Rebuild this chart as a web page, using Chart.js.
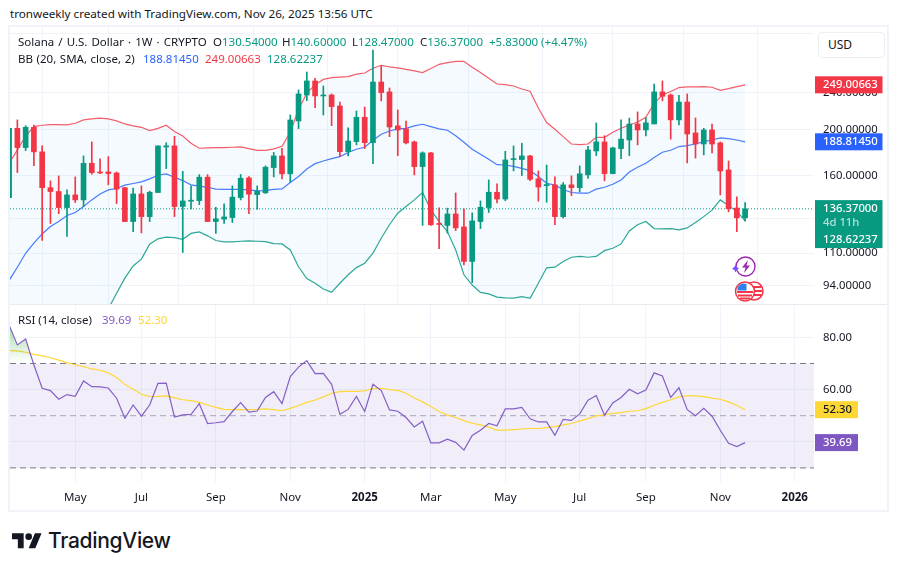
<!DOCTYPE html>
<html><head><meta charset="utf-8">
<script src="https://cdn.jsdelivr.net/npm/chart.js@4"></script>
<style>
html,body{margin:0;padding:0;background:#fff;width:898px;height:571px;overflow:hidden}
body{font-family:"Noto Sans",sans-serif;color:#131722;position:relative}
canvas{position:absolute;display:block}
.t{position:absolute;white-space:nowrap;font-size:11.5px;line-height:14px}
#frame{position:absolute;left:8px;top:25px;width:877px;height:483px;border:2px solid #f0f3fa;pointer-events:none}
#sep{position:absolute;left:10px;top:304px;width:877px;height:1px;background:#e8eaf0}
#usd{position:absolute;left:818px;top:32px;width:56px;height:24px;padding-left:9px;border:1px solid #eceef3;border-radius:4px;background:#fff;font-size:12px;line-height:24px}
.g{color:#089981}
</style></head><body>
<canvas id="price" width="878" height="277" style="left:10px;top:27px"></canvas>
<canvas id="rsi" width="878" height="206" style="left:10px;top:305px"></canvas>
<div id="frame"></div><div id="sep"></div>
<div class="t" style="left:10px;top:7px;font-size:11.67px">tronweekly created with TradingView.com, Nov 26, 2025 13:56 UTC</div>
<div class="t" style="left:18px;top:35px;word-spacing:1.1px">Solana / U.S. Dollar · 1W · CRYPTO</div>
<div class="t" style="left:213px;top:35px">O<span class="g">130.54000</span></div>
<div class="t" style="left:282px;top:35px">H<span class="g">140.60000</span></div>
<div class="t" style="left:352px;top:35px">L<span class="g">128.47000</span></div>
<div class="t" style="left:420px;top:35px">C<span class="g">136.37000</span></div>
<div class="t g" style="left:489px;top:35px">+5.83000 (+4.47%)</div>
<div class="t" style="left:18px;top:52px;word-spacing:.6px">BB (20, SMA, close, 2)</div>
<div class="t" style="left:143px;top:52px;color:#2962ff">188.81450</div>
<div class="t" style="left:205px;top:52px;color:#f23645">249.00663</div>
<div class="t g" style="left:267px;top:52px">128.62237</div>
<div class="t" style="left:18px;top:313px">RSI (14, close)</div>
<div class="t" style="left:102px;top:313px;color:#7e57c2">39.69</div>
<div class="t" style="left:138px;top:313px;color:#fdd835">52.30</div>
<div id="usd">USD</div>
<svg style="position:absolute;left:732px;top:254px" width="34" height="52" viewBox="0 0 34 52">
<circle cx="13.5" cy="12.5" r="9.5" fill="#fff" stroke="#9c27b0" stroke-width="1.4"/>
<path d="M16 6l-6 7.5h3.5l-1.5 5.5 6-7.5h-3.5z" fill="#9c27b0"/>
<path d="M2.5 10.5q.6 3.2 3.5 4-2.9.8-3.5 4-.6-3.2-3.5-4 2.900-.8 3.500-4z" transform="translate(1,0)" fill="#7c4dff"/>
<circle cx="22" cy="37" r="9" fill="#fff" stroke="#f23645" stroke-width="1.5"/>
<path d="M15 33h14M14 37h16M15 41h14" stroke="#f23645" stroke-width="2"/>
<circle cx="13" cy="37.500" r="9.500" fill="#fff" stroke="#f23645" stroke-width="1.500"/>
<path d="M5 38h16M6 41.500h14M8 44.500h10" stroke="#f23645" stroke-width="2"/>
<path d="M5.500 36.500V33.500a8 8 0 0 1 9-3.500v6.500z" fill="#2f80ed"/>
</svg>
<svg style="position:absolute;left:12px;top:530px" width="30" height="23.300" viewBox="0 0 36 28"><path d="M14 22H7V11H0V4h14v18zM28 22h-8l7.500-18h8L28 22z" fill="#131722"/><circle cx="20" cy="8" r="4" fill="#131722"/></svg>
<div class="t" style="left:48px;top:527px;font-size:21px;line-height:28px;font-weight:500;font-family:Inter,Roboto,sans-serif;color:#131722;letter-spacing:-.3px">TradingView</div>
<script>
const open=[144,201.6,183.6,202.6,179.8,151.1,148.3,137.2,145.9,142.4,170.1,163.1,163.1,162.3,151.1,128.2,146.6,131.3,147.6,184.1,185.1,137.9,141.5,141.9,159,128.2,129.7,130.7,144,158.5,146.1,147.4,166.6,176.3,161.6,208.9,237,253.7,235.9,237,224.7,180,189,212.7,188,252.4,240.6,204,201,188.7,167.4,178.9,127,125.8,133,124.9,105.6,128.2,137.2,147.8,143,173.2,173.2,176.3,157.7,152.6,153.2,131.3,153.2,151.1,160.8,180.6,188.7,161.8,182.7,190.5,205.9,200,205.9,240.6,237,210,229,197.1,186.8,200,187.8,164.7,136.9,130.54];
const high=[201.6,210,204.2,204.9,185.1,156.2,160,149.5,159.2,176.3,188.7,173.9,175.7,163.1,151.1,150.9,152.4,148.6,185.1,188,193.9,163.6,152.4,161,161,137.4,139.7,152.4,161.1,159.5,152.4,168,179.3,183,215.1,242.9,265,257,247.6,238.2,229,202,219.3,223.5,294.9,273.3,245.2,220.4,208.9,189.5,179.8,179.3,137,136.8,147.3,136.3,133.7,141.7,156.9,153.9,180.3,185.1,187.5,176.9,163.9,168.7,159.2,154.9,160,168,184.8,206.9,194.5,183.9,210,211.9,218.3,212.3,250,253.7,238.2,236.7,238.2,212,201.6,205.9,188.7,172,144.5,140.6];
const low=[144,162.6,180.9,168.2,116.9,127,133.2,119.2,140.6,137.9,161.3,161.8,153.2,139.9,128.2,122.1,121.3,128.2,147.6,165.8,131.3,110.3,136.3,139.2,128.2,121,127,127.6,142.4,133.2,136.1,146.9,159.2,157.7,155.4,201.3,230.6,222.9,215.1,204.2,175.7,176.3,186,182.7,169.8,230.3,193.6,176.6,186.8,160.8,125.8,125.8,112.4,121.1,122.7,103.9,95.3,123.9,133.9,140.3,141.9,163.9,160.3,156.4,141.5,140.8,126.2,130.4,145.4,148,158,176.6,156.2,161.6,174,176.6,186,194.2,205.9,230.3,191.3,204.9,170.4,174.5,177.2,178.9,145.9,134.4,122,128.47];
const close=[201.6,183.6,202.6,179.8,151.1,148.3,137.2,145.9,142.4,170.1,162.6,162.3,161.8,150,128.2,146.6,131.3,147.8,185.1,185.1,137.9,141.7,142.2,159,128.2,129.9,131.1,144.3,158.2,146.4,148.6,166.9,176.3,161.6,209.9,238.2,253.7,235.9,237,224,180,189.5,212.7,188,252.4,239.8,202.9,200,187.8,167.4,178.9,126.2,126.4,133,124.3,105.6,128.6,137.4,147.8,143,172.9,174,176.3,157.4,151.6,153.4,131.3,153.2,151.1,161.6,181.5,188.7,161.8,183.3,191.3,205.9,200,207,240.6,235.5,210,229,196.1,186.8,200,186.8,163.9,136.4,130.54,136.37];
const bbUpper=[170.1,181.5,194.2,203.3,204.6,205.3,205.3,204.9,206.6,210,211,211.8,211,209,205.9,204,202.6,199.4,201.6,204.6,198.4,194.2,187.5,183,183.3,183.6,183.6,183.9,184.2,182.7,181.2,181.2,182.4,184.8,197.7,221.1,239,249.2,255.6,257.9,258.4,259.1,262.3,263.7,269.9,273.8,271.6,270.3,268.5,266.4,264.2,269.5,275.1,277.3,279.1,279.1,271.2,264.2,257,250,249.2,247.6,244,241.4,222.4,207.3,200.6,193.6,186.8,186.3,186.8,193,193,197.7,201.6,204.9,207.9,212.7,227.6,237,241,245.7,246.5,246.5,246.9,246.1,242.5,244.5,246.9,249.00663];
const bbBasis=[96.3,102.7,109.9,115.4,120.7,125.1,128.2,132,133.9,137.9,142.4,146.6,149.5,150.5,153,154.2,155.4,157.7,160.5,161.6,159,156.4,153.2,152.2,151.4,150,149.8,149.8,149.8,149.5,148.8,149,149.8,150.2,154.9,159.5,165.5,169.8,172,174,175.7,179.3,182.1,183.9,190.3,195.8,199,201,201.6,204,205.6,203.3,201,199.7,194.5,188.4,182.1,177.7,173.4,169,168.7,167.6,166,164.2,159.5,154.4,153,149.8,147.6,147.1,147.1,150,151.4,153.6,156.9,163.1,166.9,170.1,174.9,179.5,181.2,184.5,185.4,186.8,189,190.5,192.4,191.8,190.5,188.8145];
const bbLower=[22.5,23.9,25.6,27.5,36.8,44.9,51.1,59.1,61.2,65.8,73.8,81.4,83.9,90.5,97.4,103.3,106.8,114.8,117.9,118.8,118.6,117.6,121,121.9,119.6,116.9,116.1,116.1,116.5,116.7,116.5,116.3,115.2,115,111.7,102.9,97.2,95,92.4,90.9,95,99,102.5,104.7,110,118.2,126.2,133.5,137.9,142.4,147.6,135.7,128.2,122.1,111.7,99,94.2,90.9,90.2,88.8,88.5,88.4,89,88.3,95,102.4,102.7,105.6,107.8,108.2,107.8,108.2,111.3,112.6,115,122.5,126.2,128.2,123.9,123.7,123.9,123.1,124.3,127.6,131.3,135.5,142.4,138.5,134.7,128.62237];
const rsiValues=[84.7,77.1,79.4,69.4,60.5,59.6,56.3,58.1,57.4,63.3,61.1,61,60.6,56.7,49,54.1,49.8,54.1,62.4,62.5,49.5,50.3,50.5,54.6,47,47.3,47.7,51.6,55,51.4,51.8,57,59.2,54.6,65,68.6,71.1,66.1,66.2,62,50.5,52.4,57.4,51.6,62,59.6,52.2,51.7,49.3,45.7,47.9,39.6,39.6,41,39.8,36.8,42.4,44.4,47,46.1,52.6,52.6,53.2,48.8,47.6,47.6,42.5,48.6,48.2,50.7,55.9,57.7,50.2,54.9,57,60.1,58.4,59.8,66.4,65.2,57,60.7,52.3,50,52.8,49.8,44.4,39.4,38.2,39.69];
const rsiMA=[74.9,74.8,74.3,73.5,72.9,72.2,71.3,70.3,69.5,68.8,67.9,67.4,66.4,64.6,62,60.1,58.2,57.3,57.4,57.6,56.8,56.1,55.8,55.1,54.1,53.2,52.4,52.3,52.3,52.3,52.4,52.6,52.3,51.9,52.8,53.9,55.1,56,57.2,58.6,59.2,59.3,59.3,59.5,60.4,60.5,60,59.7,58.6,56.8,55.3,53.5,51.6,50.2,49.3,48.1,47.1,46.5,45.6,44.5,44.5,44.7,44.9,45.1,45.1,45.4,45.8,46.5,47,48,48.9,49.9,50.3,50.9,51.2,51.7,51.9,52.7,54,55.1,56.1,57.2,57.6,57.6,57.3,56.7,56.3,55.3,53.9,52.3];
const priceTicks=[94,110,130,160,200,240,320];
const hiddenPriceTicks=[130,320];
const rsiTicks=[40,60,80];
const hiddenRsiTicks=[40];
const rsiBands=[70,50,30];
const timeTickIndex=[8,16,25,34,43,51,60,69,77,86,95];
const timeTickLabels=['May','Jul','Sep','Nov','2025','Mar','May','Jul','Sep','Nov','2026'];
const lastClose=136.37;

const GREEN='#089981',RED='#f23645',BLUE='#2962ff',PURPLE='#7e57c2',YELLOW='#fdd835',GRID='#f0f3fa';
const FONT='"Noto Sans", sans-serif';
const xMin=0.11,xMax=97.33;
const colors=open.map((o,i)=>close[i]>=o?GREEN:RED);
const pts=a=>a.map((v,i)=>({x:i,y:v}));
const noPad=s=>{s.paddingLeft=0;s.paddingRight=0;s.paddingTop=0;s.paddingBottom=0;};
const xScale=(showLabels)=>({
  type:'linear',min:xMin,max:xMax,offset:false,bounds:'data',
  border:{display:false},
  grid:{color:GRID,drawTicks:false,lineWidth:1},
  afterBuildTicks:s=>{s.ticks=timeTickIndex.map(v=>({value:v}));},
  afterFit:s=>{s.height=showLabels?29:0;noPad(s);},
  ticks:{display:showLabels,autoSkip:false,maxRotation:0,padding:9,color:'#131722',
    font:c=>{const l=c.tick&&timeTickLabels[timeTickIndex.indexOf(c.tick.value)];return {family:FONT,size:11.5,weight:(l==='2025'||l==='2026')?'bold':'normal'};},
    callback:v=>{const k=timeTickIndex.indexOf(v);return k<0?'':timeTickLabels[k];}}
});
const yCommon=(vals,hidden,fmt)=>({
  position:'right',
  border:{display:false},
  grid:{color:GRID,drawTicks:false,lineWidth:1},
  afterBuildTicks:s=>{s.ticks=vals.map(v=>({value:v}));},
  afterFit:s=>{s.width=74;noPad(s);},
  ticks:{autoSkip:false,crossAlign:'near',padding:9,color:'#131722',font:{family:FONT,size:11.3},
    callback:v=>hidden.includes(v)?'':fmt(v)}
});
function tagPlugin(id,tags){return {id,afterDraw(ch){
  const c=ch.ctx,y=ch.scales.y;
  c.save();
  tags.forEach(t=>{
    c.fillStyle=t.bg;
    const top=y.getPixelForValue(t.value)-(t.up||8.5),h=t.h||17;
    c.fillRect(805,top,t.w,h);
    c.textBaseline='middle';c.textAlign='left';c.font='500 11.3px '+FONT;
    c.fillStyle=t.fg;c.fillText(t.text,813,top+(t.up||8.5));
    if(t.sub){c.fillStyle='rgba(255,255,255,.7)';c.fillText(t.sub,813,top+(t.up||8.5)+14);c.fillStyle=t.fg;c.fillText(t.sub2,813,top+(t.up||8.5)+31);}
  });
  c.restore();
}};}
Chart.defaults.animation=false;
const base={responsive:false,devicePixelRatio:1,animation:false,layout:{padding:0},
  plugins:{legend:{display:false},tooltip:{enabled:false}},events:[]};

const lineDs=(data,color,order,extra)=>Object.assign({type:'line',data:pts(data),borderColor:color,borderWidth:1.2,pointRadius:0,tension:0,fill:false,order},extra||{});
new Chart(document.getElementById('price'),{
  type:'bar',
  data:{datasets:[
    {label:'wick',data:open.map((_,i)=>({x:i,y:[low[i],high[i]]})),backgroundColor:colors,barThickness:1,grouped:false,borderWidth:0,order:1},
    {label:'body',data:open.map((o,i)=>({x:i,y:[Math.min(o,close[i]),Math.max(o,close[i])]})),backgroundColor:colors,barThickness:5,minBarLength:1,grouped:false,borderWidth:0,order:0},
    lineDs(bbUpper,'rgba(242,54,69,.8)',2,{label:'upper',fill:'+2',backgroundColor:'rgba(33,150,243,.05)'}),
    lineDs(bbBasis,'rgba(41,98,255,.85)',3,{label:'basis'}),
    lineDs(bbLower,'rgba(8,153,129,.85)',4,{label:'lower'}),
    {type:'line',label:'last',data:[{x:xMin,y:lastClose},{x:xMax,y:lastClose}],borderColor:GREEN,borderWidth:1,borderDash:[1,2],pointRadius:0,order:5}
  ]},
  options:Object.assign({},base,{scales:{
    x:xScale(false),
    y:Object.assign({type:'logarithmic',min:85.9,max:329.7},yCommon(priceTicks,hiddenPriceTicks,v=>v.toFixed(5)))
  }}),
  plugins:[tagPlugin('priceTags',[
    {value:bbUpper[89],bg:RED,fg:'#fff',w:67.500,text:bbUpper[89].toFixed(5)},
    {value:bbBasis[89],bg:BLUE,fg:'#fff',w:67.500,text:bbBasis[89].toFixed(5)},
    {value:lastClose,bg:GREEN,fg:'#fff',w:67.500,up:8.7,h:48,text:lastClose.toFixed(5),sub:'4d 11h',sub2:bbLower[89].toFixed(5)}
  ])]
});

const rsiCanvas=document.getElementById('rsi');
const grad=rsiCanvas.getContext('2d').createLinearGradient(0,22,0,58);
grad.addColorStop(0,'rgba(76,175,80,.45)');grad.addColorStop(1,'rgba(76,175,80,0)');
const band=(v,color,extra)=>Object.assign({type:'line',data:[{x:xMin,y:v},{x:xMax,y:v}],borderColor:color,borderWidth:1,borderDash:[6,4],pointRadius:0,fill:false},extra||{});
new Chart(rsiCanvas,{
  type:'line',
  data:{datasets:[
    lineDs(rsiValues,'rgba(126,87,194,.95)',0,{label:'rsi',fill:{target:{value:rsiBands[0]},above:grad,below:'rgba(0,0,0,0)'}}),
    lineDs(rsiMA,YELLOW,1,{label:'ma'}),
    band(rsiBands[0],'#787b86',{order:2,fill:'+2',backgroundColor:'rgba(126,87,194,.1)'}),
    band(rsiBands[1],'rgba(120,123,134,.6)',{order:3}),
    band(rsiBands[2],'#787b86',{order:4})
  ]},
  options:Object.assign({},base,{scales:{
    x:xScale(true),
    y:Object.assign({type:'linear',min:24.6,max:92.4,bounds:'data'},yCommon(rsiTicks,hiddenRsiTicks,v=>v.toFixed(2)))
  }}),
  plugins:[tagPlugin('rsiTags',[
    {value:rsiMA[89],bg:YELLOW,fg:'#131722',w:43,text:rsiMA[89].toFixed(2)},
    {value:rsiValues[89],bg:PURPLE,fg:'#fff',w:43,text:rsiValues[89].toFixed(2)}
  ])]
});
</script>
</body></html>
